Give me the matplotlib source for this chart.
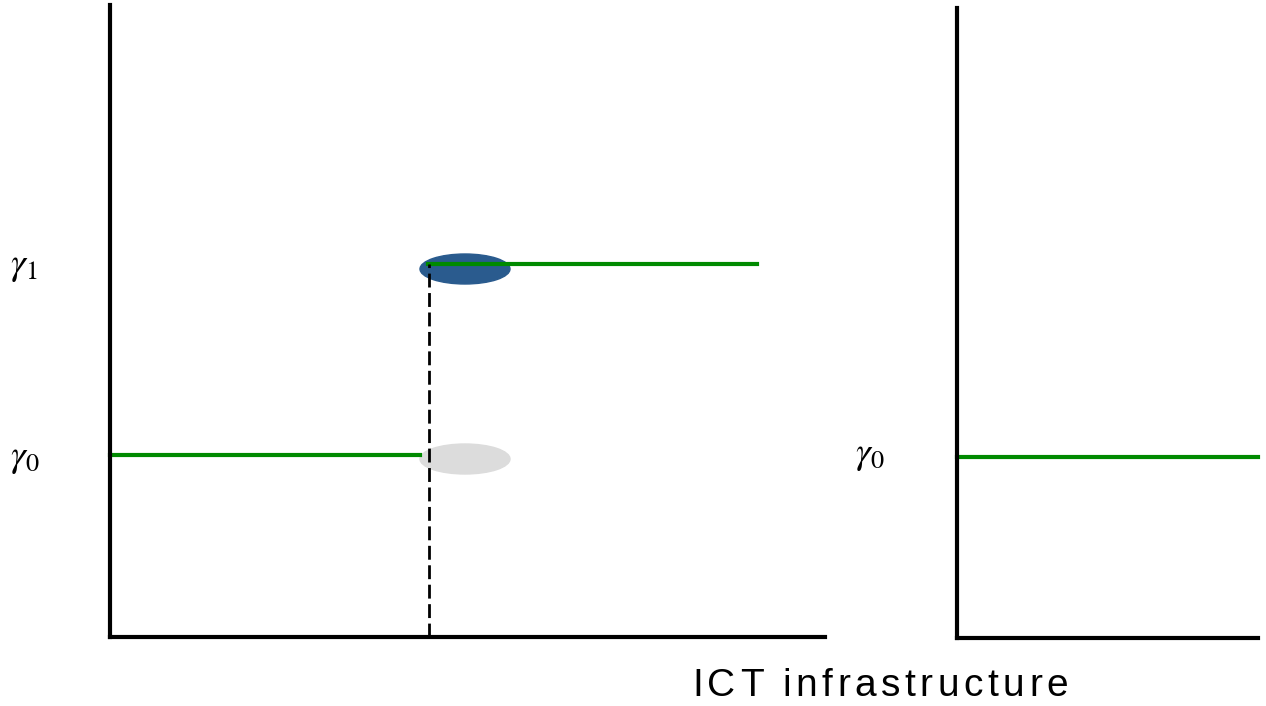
import matplotlib
matplotlib.use("Agg")
import matplotlib.pyplot as plt
from matplotlib.patches import Ellipse

plt.rcParams['mathtext.fontset'] = 'stix'

# levels and positions (arbitrary diagram units)
gamma0 = 182
gamma1 = 373
threshold = 319
line_end = 647
left_xmax, left_ymax = 715, 632
right_xmax, right_ymax = 301, 630
right_gamma0 = 181
xlabel = 'ICT infrastructure'

GREEN = '#008a00'
BLUE = '#2a5b8e'
GREY = '#dcdcdc'

W, H = 1266, 706
fig = plt.figure(figsize=(W / 100, H / 100), dpi=100)


def px_axes(x0, y_bottom, width, height):
    return fig.add_axes([x0 / W, 1 - y_bottom / H, width / W, height / H])


def style(ax):
    for s in ['top', 'right']:
        ax.spines[s].set_visible(False)
    for s in ['left', 'bottom']:
        ax.spines[s].set_linewidth(3)
        ax.spines[s].set_capstyle('projecting')
    ax.set_xticks([])
    ax.set_yticks([])


# left panel
ax = px_axes(110, 637, left_xmax, left_ymax)
ax.set_xlim(0, left_xmax)
ax.set_ylim(0, left_ymax)
style(ax)
ax.add_patch(Ellipse((threshold + 36, gamma0 - 4), 90, 30, color=GREY, zorder=1))
ax.add_patch(Ellipse((threshold + 36, gamma1 - 5), 90, 30, color=BLUE, zorder=1))
ax.plot([0, threshold - 9], [gamma0, gamma0], color=GREEN, lw=3, zorder=2, clip_on=False)
ax.plot([threshold - 1, line_end], [gamma1, gamma1], color=GREEN, lw=3, zorder=2)
ax.plot([threshold, threshold], [0, gamma1], color='black', lw=2,
        linestyle=(0, (5, 2)), zorder=3)
fig.text(10 / W, 1 - 266 / H, r'$\gamma_1$', fontsize=27, va='center', ha='left')
fig.text(10 / W, 1 - 458 / H, r'$\gamma_0$', fontsize=27, va='center', ha='left')

# right panel
ax2 = px_axes(957, 638, right_xmax, right_ymax)
ax2.set_xlim(0, right_xmax)
ax2.set_ylim(0, right_ymax)
style(ax2)
ax2.plot([0, right_xmax], [right_gamma0, right_gamma0], color=GREEN, lw=3, clip_on=False)
fig.text(855 / W, 1 - 455 / H, r'$\gamma_0$', fontsize=27, va='center', ha='left')

# x label drawn with extra letter spacing
renderer = fig.canvas.get_renderer()
x = 692
for ch in xlabel:
    t = fig.text(x / W, 1 - 686 / H, ch, fontsize=28, family='Liberation Sans',
                 va='center', ha='left')
    w = t.get_window_extent(renderer).width if ch != ' ' else 10
    x += w + 4.5

fig.savefig('out.png', dpi=100)
